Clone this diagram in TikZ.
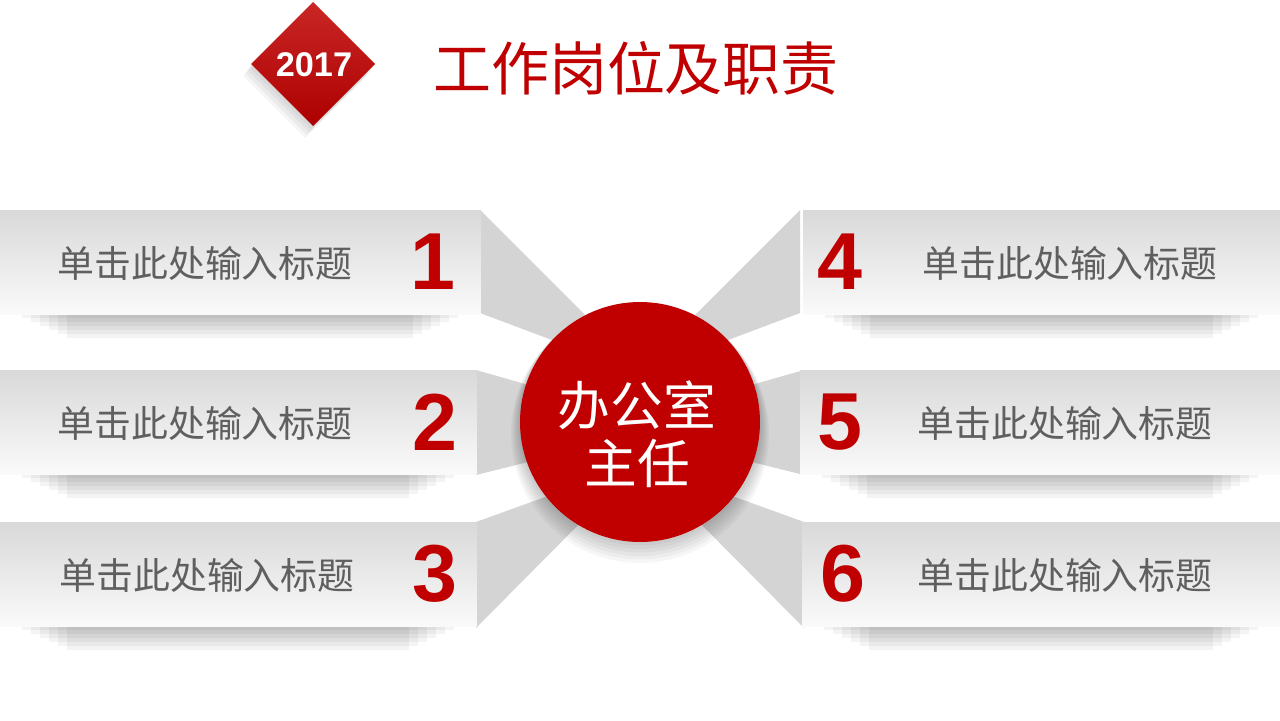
\documentclass[tikz,border=0pt]{standalone}
\usepackage{fontspec}
\setmainfont{Liberation Sans}
\newfontfamily\cjk{Noto Sans CJK SC}
\usetikzlibrary{calc}
\definecolor{brand}{RGB}{192,0,0}
\definecolor{fangray}{RGB}{212,212,212}
\definecolor{label}{RGB}{95,95,95}

\begin{document}
\begin{tikzpicture}[
        x={(0.02cm,0cm)},
        y={(0cm,-0.02cm)},
        card/.style={rectangle, inner sep=0pt, top color=black!15, bottom color=black!2, anchor=north west},
        fan/.style={fill=fangray},
        cardshadow/.style={fill=black, opacity=0.045},
        num/.style={text=brand, font=\bfseries\fontsize{46}{46}\selectfont},
        cardtext/.style={text=label, font=\cjk\fontsize{21}{21}\selectfont},
        ]
        \useasboundingbox (0,0) rectangle (1280,720);
        \fill[white] (0,0) rectangle (1280,720);

        % fans behind the cards
        \fill[fan] (480,210)--(600,330)--(640,422)--(560,343)--(480,313)--cycle;
        \fill[fan] (476,370)--(560,394)--(640,422)--(560,454)--(476,475)--cycle;
        \fill[fan] (476,522)--(570,488)--(640,422)--(590,513)--(476,628)--cycle;
        \fill[fan] (800,210)--(680,330)--(640,422)--(720,343)--(800,313)--cycle;
        \fill[fan] (804,370)--(720,394)--(640,422)--(720,454)--(804,475)--cycle;
        \fill[fan] (804,522)--(710,488)--(640,422)--(690,513)--(804,628)--cycle;

        % cards
        \foreach \i/\y/\w/\n/\t in {1/210/480/433/205, 2/370/476/435/205, 3/522/476/435/207} {
          \foreach \k in {1,...,7}
            \fill[cardshadow] (4+\k*9,\y+100) rectangle (\w-4-\k*9,\y+100+\k*4);
          \node (L\i) [card, minimum width=\w*0.02cm, minimum height=2.08cm] at (0,\y) {};
          \node (Ln\i) [num] at (\n,\y+52) {\i};
          \node (Lt\i) [cardtext] at (\t,\y+53) {单击此处输入标题};
        }
        \foreach \i/\y/\x/\n/\t in {4/210/803/840/1070, 5/370/800/840/1065, 6/522/802/843/1065} {
          \foreach \k in {1,...,7}
            \fill[cardshadow] (\x+4+\k*9,\y+100) rectangle (1276-\k*9,\y+100+\k*4);
          \node (R\i) [card, minimum width={(1280-\x)*0.02cm}, minimum height=2.08cm] at (\x,\y) {};
          \node (Rn\i) [num] at (\n,\y+52) {\i};
          \node (Rt\i) [cardtext] at (\t,\y+53) {单击此处输入标题};
        }

        % hub
        \foreach \k in {1,...,6} {
          \fill[black, opacity=0.035] (640,422+\k*2) circle ({2.40cm+\k*0.03cm});
        }
        \node (hub) [circle, fill=brand, minimum size=4.8cm, inner sep=0pt] at (640,422) {};
        \node (hubtext) [text=white, align=center, font=\cjk\fontsize{30}{33}\selectfont] at (637,434) {办公室\\主任\hspace{0.6em}};

        % badge
        \foreach \k in {1,...,4} {
          \fill[black, opacity=0.04] (313-\k*2,2+\k*3)--(375-\k*2,64+\k*3)--(313-\k*2,126+\k*3)--(251-\k*2,64+\k*3)--cycle;
        }
        \shade[top color=brand!85!white, bottom color=brand!90!black] (313,2)--(375,64)--(313,126)--(251,64)--cycle;
        \node (year) [text=white, font=\bfseries\fontsize{19.5}{19.5}\selectfont] at (314,65) {2017};
        \node (heading) [text=brand, font=\cjk\fontsize{33}{33}\selectfont] at (636,68) {工作岗位及职责};
      \end{tikzpicture}
\end{document}
